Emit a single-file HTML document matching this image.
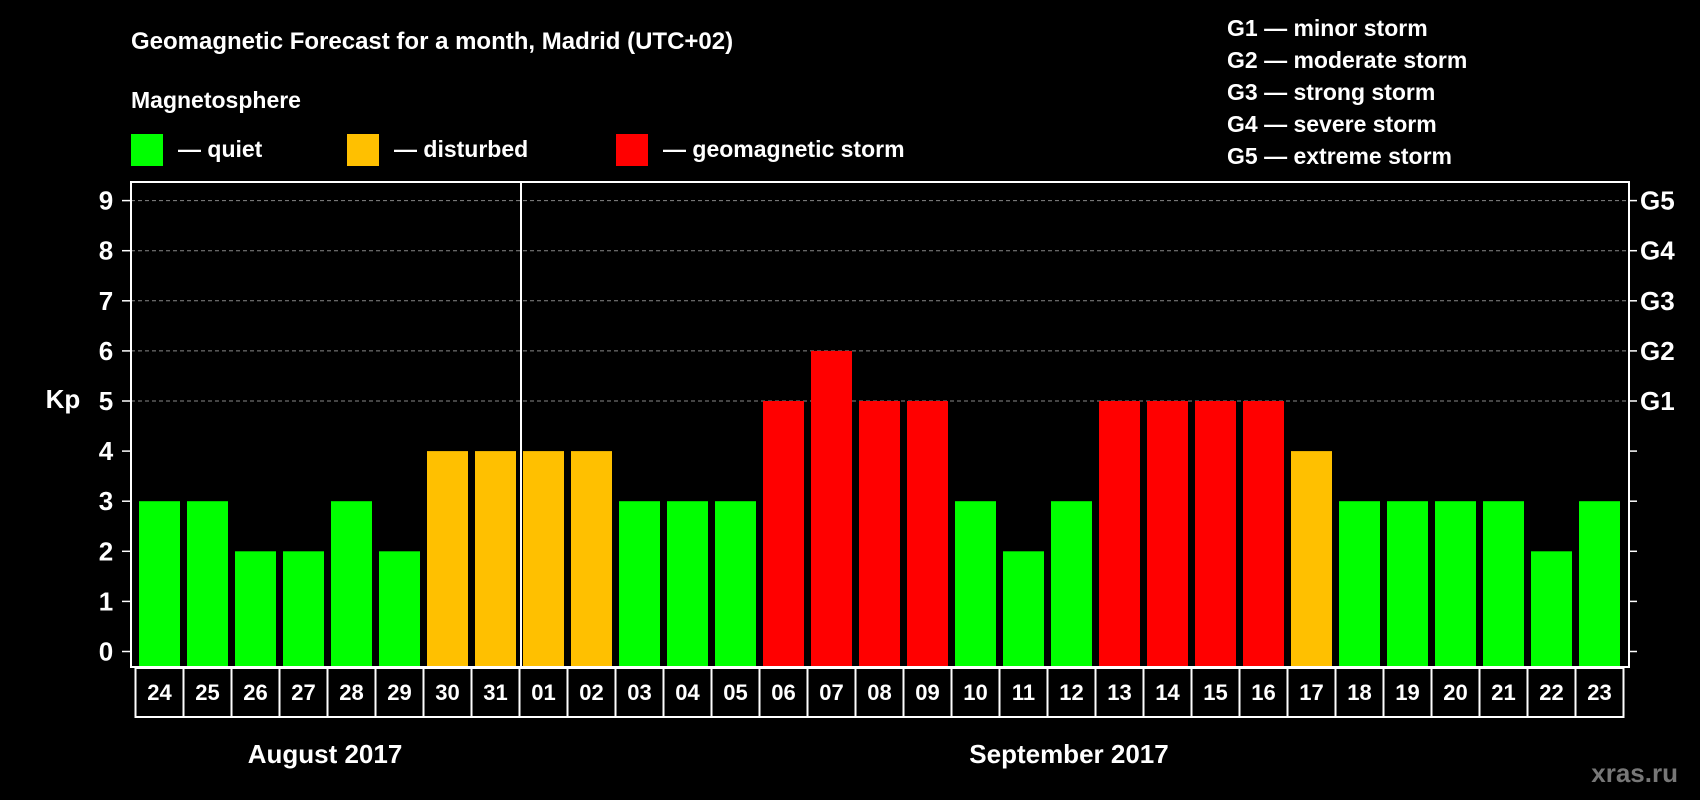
<!DOCTYPE html>
<html><head><meta charset="utf-8"><style>
html,body{margin:0;padding:0;background:#000;width:1700px;height:800px;overflow:hidden}
svg{display:block;font-family:"Liberation Sans",Arial,sans-serif;font-weight:bold}
</style></head><body>
<svg id="chart" width="1700" height="800" viewBox="0 0 1700 800">
<rect x="0" y="0" width="1700" height="800" fill="#000"/>
<text x="131" y="49" fill="#fff" font-size="24">Geomagnetic Forecast for a month, Madrid (UTC+02)</text>
<text x="131" y="108" fill="#fff" font-size="23">Magnetosphere</text>
<rect x="131" y="134" width="32" height="32" fill="#00ff00"/>
<text x="178" y="157" fill="#fff" font-size="23">— quiet</text>
<rect x="347" y="134" width="32" height="32" fill="#ffc000"/>
<text x="394" y="157" fill="#fff" font-size="23">— disturbed</text>
<rect x="616" y="134" width="32" height="32" fill="#ff0000"/>
<text x="663" y="157" fill="#fff" font-size="23">— geomagnetic storm</text>
<g fill="#fff" font-size="23">
<text x="1227" y="36">G1 — minor storm</text>
<text x="1227" y="68">G2 — moderate storm</text>
<text x="1227" y="100">G3 — strong storm</text>
<text x="1227" y="132">G4 — severe storm</text>
<text x="1227" y="164">G5 — extreme storm</text>
</g>
<g id="grid"></g>
<g id="bars"></g>
<g id="axes"></g>
<text x="63" y="408" fill="#fff" font-size="26" text-anchor="middle">Kp</text>
<text x="325" y="763" fill="#fff" font-size="26" text-anchor="middle">August 2017</text>
<text x="1069" y="763" fill="#fff" font-size="26" text-anchor="middle">September 2017</text>
<text x="1678" y="782" fill="#777" font-size="26" text-anchor="end">xras.ru</text>
</svg>
<script>
const days = ["24","25","26","27","28","29","30","31","01","02","03","04","05","06","07","08","09","10","11","12","13","14","15","16","17","18","19","20","21","22","23"];
const kpValues = [3,3,2,2,3,2,4,4,4,4,3,3,3,5,6,5,5,3,2,3,5,5,5,5,4,3,3,3,3,2,3];
const yTicks = [0,1,2,3,4,5,6,7,8,9];
const gLabels = ["","","","","","G1","G2","G3","G4","G5"];
const monthSplitIndex = 8;

const NS = "http://www.w3.org/2000/svg";
const plotL = 131, plotR = 1629, plotT = 182, plotB = 667;
const y0 = 651.5, unit = 50.1;
const firstX = 135.5, pitch = 48;
function yScale(v){ return y0 - v*unit; }
function xScale(i){ return firstX + i*pitch; }
function mk(tag, attrs, parent){
  const e = document.createElementNS(NS, tag);
  for (const k in attrs) e.setAttribute(k, attrs[k]);
  parent.appendChild(e);
  return e;
}
function colorFor(v){ return v >= 5 ? "#ff0000" : (v >= 4 ? "#ffc000" : "#00ff00"); }

const grid = document.getElementById("grid");
const bars = document.getElementById("bars");
const axes = document.getElementById("axes");

yTicks.forEach((t, i) => {
  const y = yScale(t);
  if (t >= 5) {
    const gl = mk("line", {x1: plotL, x2: plotR, y1: y, y2: y, stroke: "#888", "stroke-width": 1, "stroke-dasharray": "4,3"}, grid);
    
    
  }
  const lt = mk("line", {x1: plotL - 9, x2: plotL, y1: y, y2: y, stroke: "#fff", "stroke-width": 1.5}, axes);
  
  
  const rt = mk("line", {x1: plotR, x2: plotR + 8, y1: y, y2: y, stroke: "#fff", "stroke-width": 1.5}, axes);
  
  
  const lbl = mk("text", {x: 106, y: y + 9, fill: "#fff", "font-size": 26, "text-anchor": "middle"}, axes);
  lbl.textContent = String(t);
  
  
  if (gLabels[i]) {
    const g = mk("text", {x: 1640, y: y + 9, fill: "#fff", "font-size": 26}, axes);
    g.textContent = gLabels[i];
    
    
  }
});

kpValues.forEach((v, i) => {
  const x = xScale(i) + 3.5;
  const r = mk("rect", {x: x, y: yScale(v), width: 41, height: plotB - yScale(v), fill: colorFor(v)}, bars);
  
  
});

const frame = mk("rect", {x: plotL, y: plotT, width: plotR - plotL, height: plotB - plotT, fill: "none", stroke: "#fff", "stroke-width": 2}, axes);



const divX = xScale(monthSplitIndex) + 1.5;
const dv = mk("line", {x1: divX, x2: divX, y1: plotT, y2: plotB, stroke: "#fff", "stroke-width": 2}, axes);



days.forEach((d, i) => {
  const x = xScale(i);
  const b = mk("rect", {x: x, y: plotB + 1, width: pitch, height: 49, fill: "#000", stroke: "#fff", "stroke-width": 2}, axes);
  
  
  const t = mk("text", {x: x + pitch/2, y: plotB + 33, fill: "#fff", "font-size": 22, "text-anchor": "middle"}, axes);
  t.textContent = d;
  
  
});
</script>
</body></html>
